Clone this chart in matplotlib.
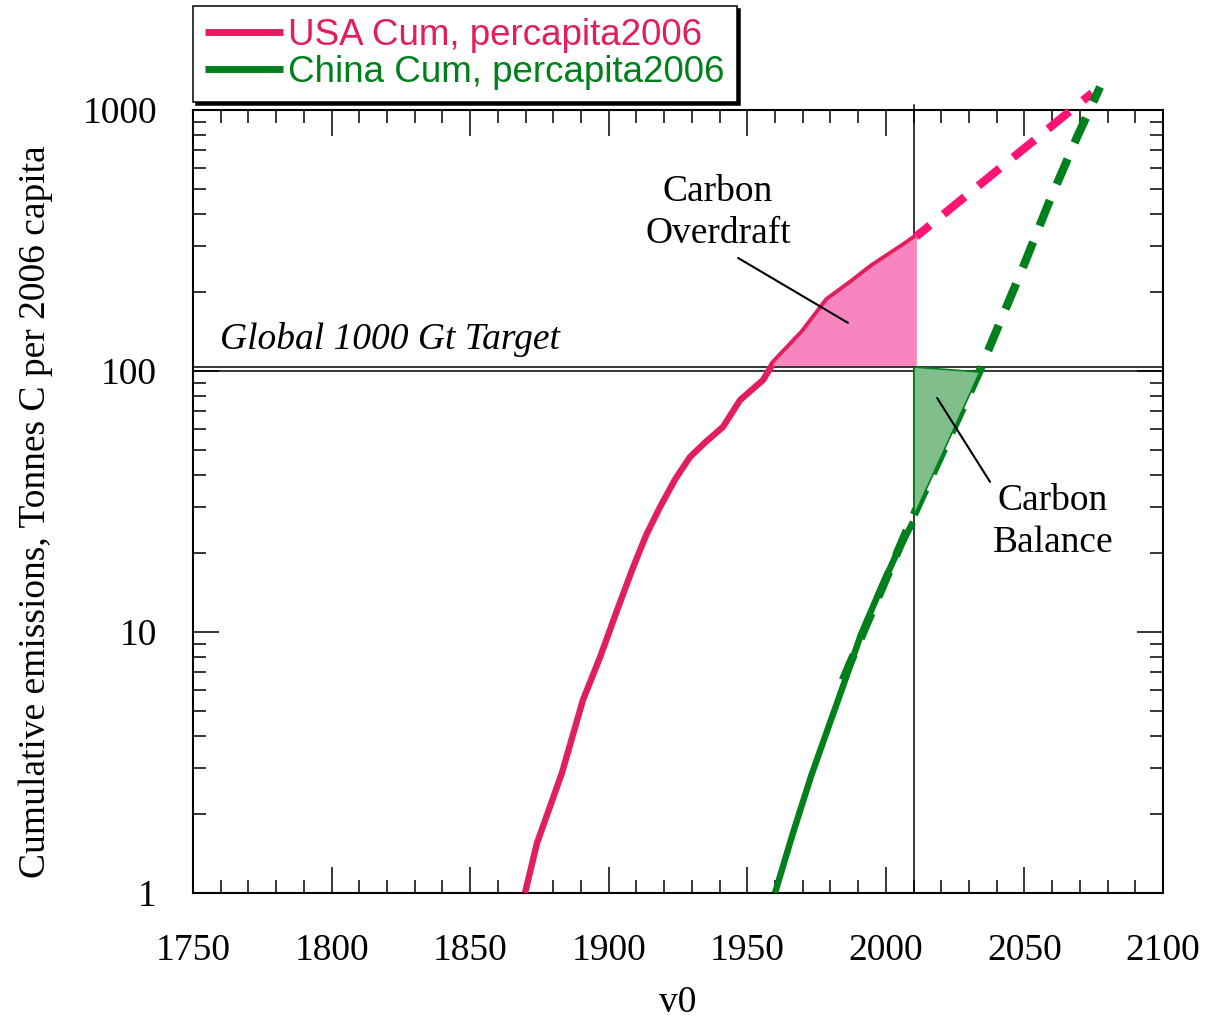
import numpy as np
import matplotlib.pyplot as plt
from matplotlib.ticker import FixedLocator, MultipleLocator, LogLocator, NullFormatter

plt.rcParams['font.family'] = ['Liberation Serif', 'DejaVu Serif']

# USA cumulative emissions per 2006 capita (historical)
usa_years = [1869.8, 1874.1, 1883.1, 1890.7, 1896.9, 1903.0, 1908.8, 1913.5, 1918.5,
             1924.0, 1929.3, 1935.0, 1941.2, 1947.4, 1955.7, 1959.3, 1970.0, 1978.8,
             1987.1, 1995.0, 2007.6, 2011.0]
usa_vals = [1.0, 1.55, 2.88, 5.49, 8.02, 12.1, 17.7, 23.5, 30.1,
            38.5, 46.8, 53.5, 61.0, 77.4, 92.4, 107, 141, 187,
            217, 252, 309, 328]

# USA projection (dashed)
usa_proj_years = [2011.0, 2074.4]
usa_proj_vals = [328, 1161]

# China cumulative emissions per 2006 capita (historical)
china_years = [1960.0, 1966.5, 1973.0, 1979.8, 1985.0, 1990.7, 1996.8, 2004.0, 2009.8]
china_vals = [1.0, 1.70, 2.8, 4.48, 6.4, 9.57, 13.6, 20.1, 26.4]

# China projection (dashed)
china_proj_years = [1984.5, 2007.6, 2010.0, 2034.0, 2049.5, 2059.2, 2069.0, 2077.3]
china_proj_vals = [6.55, 24.6, 28.0, 101, 250, 452, 788, 1225]

target = 100
target2 = 104
now_year = 2010

usa_col = '#E21F5C'
usa_dash = '#FF1476'
china_col = '#00801A'

fig = plt.figure(figsize=(12.07, 10.21), dpi=100)
ax = fig.add_axes([0.1599, 0.12537, 0.80365, 0.76689])
ax.set_yscale('log')
ax.set_xlim(1750, 2100)
ax.set_ylim(1, 1000)

ax.plot(usa_years, usa_vals, color=usa_col, lw=4.6, solid_capstyle='butt',
        label='USA Cum, percapita2006', zorder=3)
ax.plot(usa_proj_years, usa_proj_vals, color=usa_dash, lw=6,
        linestyle=(1.2, (3.3, 2.1)), dash_capstyle='butt', zorder=3, clip_on=False)
ax.plot(china_years, china_vals, color=china_col, lw=4.6, solid_capstyle='butt',
        label='China Cum, percapita2006', zorder=3)
ax.plot(china_proj_years, china_proj_vals, color=china_col, lw=6,
        linestyle=(0, (3.3, 2.1)), dash_capstyle='butt', zorder=3, clip_on=False)

# Carbon overdraft area
uy = np.array(usa_years)
uv = np.array(usa_vals)
m = uy >= 1959
ax.fill_between(uy[m], target2 + 1, uv[m], color='#F786C0', lw=0, zorder=4)

# Carbon balance area
cy = np.array(china_proj_years)
cv = np.array(china_proj_vals)
m2 = (cy >= now_year) & (cy <= 2034)
top = np.interp(cy[m2], [now_year, 2034], [target2, 99.5])
ax.fill_between(cy[m2], cv[m2], top, facecolor='#80BF8B', edgecolor=china_col,
                lw=1.2, zorder=4)

ax.axhline(target, color='black', lw=1.1, zorder=2)
ax.axhline(target2, color='black', lw=1.1, zorder=2)
ax.axvline(now_year, ymin=0, ymax=1.007, color='black', lw=1.1, clip_on=False, zorder=2)

ax.text(1759.7, 132, 'Global 1000 Gt Target', fontsize=27, style='italic',
        ha='left', va='center')
ax.text(1939.4, 403, 'Carbon\nOverdraft', fontsize=27, ha='center', va='center',
        linespacing=1.3)
ax.annotate('', xy=(1986.3, 153), xytext=(1946.7, 271),
            arrowprops=dict(arrowstyle='-', lw=1.5, color='black',
                            shrinkA=0, shrinkB=0), zorder=5)
ax.text(2060.3, 26.4, 'Carbon\nBalance', fontsize=27, ha='center', va='center',
        linespacing=1.3)
ax.annotate('', xy=(2037.6, 37.6), xytext=(2018.5, 78.8),
            arrowprops=dict(arrowstyle='-', lw=1.5, color='black',
                            shrinkA=0, shrinkB=0), zorder=5)

# axes, ticks
ax.xaxis.set_major_locator(MultipleLocator(50))
ax.xaxis.set_minor_locator(MultipleLocator(10))
ax.yaxis.set_major_locator(FixedLocator([1, 10, 100, 1000]))
ax.set_yticklabels(['1', '10', '100', '1000'])
ax.yaxis.set_minor_locator(LogLocator(base=10, subs=np.arange(2, 10)))
ax.yaxis.set_minor_formatter(NullFormatter())
ax.tick_params(which='both', direction='in', top=True, right=True, width=1.1,
               labelsize=27)
ax.tick_params(which='major', length=19)
ax.tick_params(which='minor', length=9.4)
ax.tick_params(axis='x', which='major', pad=29)
ax.tick_params(axis='y', which='major', pad=26)
for s in ax.spines.values():
    s.set_linewidth(1.5)

ax.set_xlabel('v0', fontsize=27, labelpad=13)
ax.set_ylabel('Cumulative emissions, Tonnes C per 2006 capita', fontsize=27, labelpad=21)
ax.yaxis.label.set_y(0.487)

leg = ax.legend(loc='lower left', bbox_to_anchor=(0.1599, 1 - 102 / 1021),
                bbox_transform=fig.transFigure, borderaxespad=0,
                prop={'family': 'Liberation Sans', 'size': 26.5},
                labelcolor='linecolor', handlelength=2.12, handletextpad=0.14,
                labelspacing=0.04, borderpad=0.33, fancybox=False,
                shadow={'color': 'black', 'alpha': 1}, framealpha=1)
leg.get_frame().set_edgecolor('black')
leg.get_frame().set_linewidth(1.1)
for h in leg.legend_handles:
    h.set_linewidth(5)

fig.savefig('out.png', dpi=100)
